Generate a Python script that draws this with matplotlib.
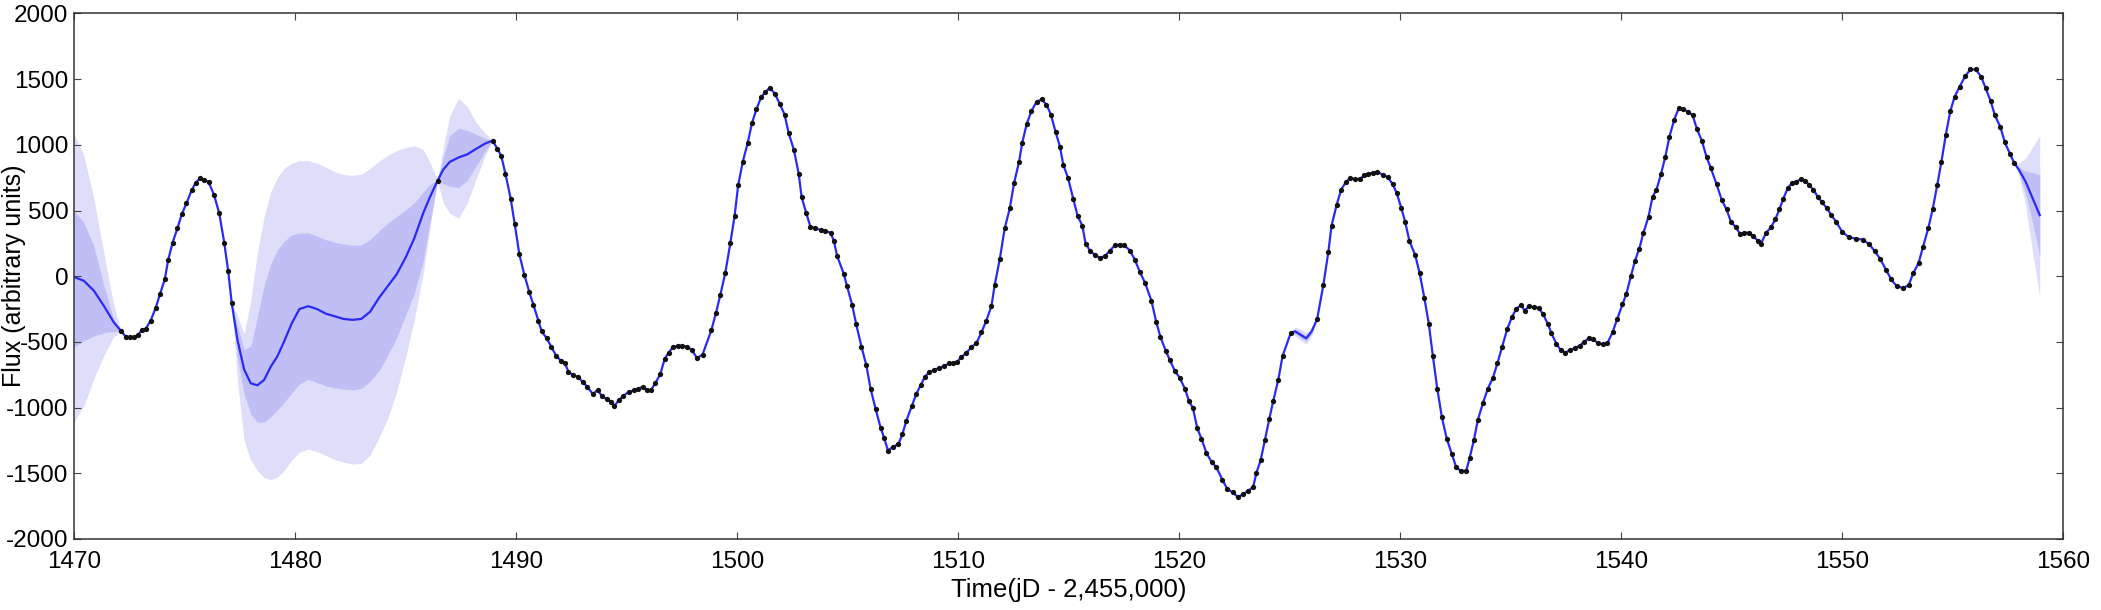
import numpy as np
import matplotlib
matplotlib.use("Agg")
import matplotlib.pyplot as plt

plt.rcParams['font.family'] = ['Liberation Sans', 'DejaVu Sans']
plt.rcParams['axes.unicode_minus'] = False

# observed (binned) light curve points
obs_t = [
    1472.14, 1472.34, 1472.54, 1472.72, 1472.90, 1473.07, 1473.25, 1473.47, 1473.70, 1473.90,
    1474.11, 1474.26, 1474.46, 1474.68, 1474.88, 1475.09, 1475.32, 1475.51, 1475.71, 1475.89,
    1476.09, 1476.34, 1476.57, 1476.80, 1476.98, 1477.14,
    1486.45,
    1488.94, 1489.15, 1489.33, 1489.52, 1489.76, 1489.94, 1490.15, 1490.38, 1490.60, 1490.79,
    1491.01, 1491.16, 1491.39, 1491.59, 1491.81, 1492.04, 1492.22, 1492.37, 1492.60, 1492.82,
    1493.02, 1493.23, 1493.47, 1493.69, 1493.88, 1494.11, 1494.31, 1494.44, 1494.64, 1494.86,
    1495.09, 1495.32, 1495.54, 1495.74, 1495.92, 1496.10, 1496.30, 1496.53, 1496.72, 1496.90,
    1497.10, 1497.31, 1497.51, 1497.73, 1497.96, 1498.19, 1498.44,
    1498.84, 1499.05, 1499.24, 1499.47, 1499.70, 1499.89, 1500.05, 1500.26, 1500.48, 1500.68,
    1500.88, 1501.10, 1501.28, 1501.48, 1501.71, 1501.93, 1502.15, 1502.34, 1502.57, 1502.79,
    1502.92, 1503.13, 1503.32, 1503.55, 1503.78, 1504.00, 1504.23, 1504.38, 1504.53, 1504.83,
    1504.98, 1505.21, 1505.39, 1505.63, 1505.85, 1506.04, 1506.27, 1506.50, 1506.65, 1506.83,
    1507.05, 1507.30, 1507.48, 1507.66, 1507.90, 1508.11, 1508.31, 1508.50, 1508.69, 1508.91,
    1509.14, 1509.37, 1509.59, 1509.78, 1509.96,
    1510.15, 1510.38, 1510.60, 1510.83, 1511.06, 1511.28, 1511.51, 1511.66, 1511.89, 1512.11,
    1512.34, 1512.54, 1512.76, 1512.90, 1513.10, 1513.32, 1513.55, 1513.78, 1514.00, 1514.20,
    1514.41, 1514.61, 1514.76, 1514.98, 1515.21, 1515.41, 1515.62, 1515.77, 1515.97, 1516.19,
    1516.42, 1516.65, 1516.87, 1517.10, 1517.33, 1517.52, 1517.78, 1518.01, 1518.23, 1518.46,
    1518.75, 1518.97, 1519.15, 1519.40, 1519.58, 1519.80, 1520.03, 1520.26, 1520.45, 1520.63,
    1520.82, 1521.01, 1521.24, 1521.47, 1521.69, 1521.96, 1522.18, 1522.42, 1522.67, 1522.90,
    1523.13, 1523.35, 1523.50, 1523.69, 1523.88, 1524.08, 1524.26, 1524.49, 1524.68, 1525.05,
    1526.25, 1526.53, 1526.75, 1526.90, 1527.13, 1527.33, 1527.55, 1527.73, 1527.96, 1528.19,
    1528.37, 1528.56, 1528.79, 1528.97,
    1529.21, 1529.44, 1529.67, 1529.85, 1530.05, 1530.23, 1530.42, 1530.68, 1530.88, 1531.10,
    1531.30, 1531.48, 1531.68, 1531.89, 1532.11, 1532.34, 1532.54, 1532.76, 1532.99, 1533.14,
    1533.34, 1533.52, 1533.75, 1533.97, 1534.20, 1534.40, 1534.62, 1534.85, 1535.06, 1535.26,
    1535.48, 1535.63, 1535.82, 1536.04, 1536.27, 1536.47, 1536.69, 1536.84, 1537.07, 1537.27,
    1537.48, 1537.67, 1537.90, 1538.13, 1538.32, 1538.53, 1538.73, 1538.96, 1539.18, 1539.38,
    1539.61, 1539.83, 1540.06, 1540.24, 1540.44, 1540.63, 1540.82, 1541.01, 1541.24, 1541.42,
    1541.60, 1541.80, 1542.00, 1542.18, 1542.40, 1542.60, 1542.81, 1543.01, 1543.23, 1543.43,
    1543.66, 1543.87, 1544.06, 1544.32, 1544.56, 1544.77, 1544.97, 1545.20, 1545.39, 1545.57,
    1545.77, 1545.98, 1546.18, 1546.33, 1546.56, 1546.78, 1546.98, 1547.16, 1547.34, 1547.54,
    1547.73, 1547.92, 1548.14, 1548.34, 1548.52, 1548.70, 1548.90, 1549.09, 1549.31, 1549.50,
    1549.73,
    1550.00, 1550.30, 1550.62, 1550.94, 1551.23, 1551.48, 1551.73, 1551.98, 1552.22, 1552.47,
    1552.77, 1553.01, 1553.21, 1553.46, 1553.65, 1553.90, 1554.10, 1554.30, 1554.49, 1554.69,
    1554.89, 1555.09, 1555.31, 1555.56, 1555.80, 1556.05, 1556.30, 1556.49, 1556.72, 1556.91,
    1557.16, 1557.36, 1557.60, 1557.78,
]
obs_f = [
    -419, -459, -465, -465, -446, -410, -400, -337, -241, -132,
    -23, 121, 255, 364, 473, 555, 653, 713, 746, 732,
    718, 618, 481, 255, 37, -206,
    727,
    1032, 972, 918, 781, 590, 399, 168, 9, -119, -219,
    -337, -419, -473, -536, -604, -645, -664, -727, -754, -765,
    -808, -841, -896, -868, -909, -937, -956, -991, -945, -909,
    -882, -868, -855, -841, -868, -868, -814, -746, -631, -582,
    -541, -528, -528, -536, -563, -623, -596,
    -410, -277, -146, 26, 255, 459, 691, 871, 1013, 1168,
    1272, 1367, 1400, 1436, 1389, 1313, 1231, 1087, 964, 781,
    604, 481, 378, 364, 353, 345, 331, 269, 154, 18,
    -78, -219, -364, -536, -678, -855, -1010, -1155, -1228, -1327,
    -1299, -1278, -1204, -1100, -991, -896, -828, -765, -732, -713,
    -700, -683, -664, -664, -652,
    -615, -582, -541, -509, -427, -337, -228, -64, 132, 364,
    517, 713, 871, 1013, 1155, 1258, 1327, 1346, 1307, 1231,
    1100, 986, 849, 746, 590, 459, 386, 249, 195, 162,
    140, 154, 195, 236, 241, 236, 195, 121, 31, -50,
    -187, -350, -459, -569, -637, -718, -773, -855, -950, -1005,
    -1155, -1236, -1346, -1414, -1455, -1550, -1618, -1646, -1681, -1659,
    -1632, -1605, -1496, -1400, -1250, -1087, -950, -787, -609, -432,
    -323, -64, 181, 386, 544, 658, 718, 746, 740, 740,
    768, 781, 789, 795,
    773, 754, 699, 631, 522, 413, 269, 162, 26, -168,
    -364, -604, -855, -1073, -1236, -1354, -1455, -1482, -1482, -1387,
    -1245, -1092, -964, -855, -773, -664, -536, -400, -310, -247,
    -219, -263, -228, -236, -241, -290, -364, -432, -514, -563,
    -582, -563, -547, -528, -500, -473, -481, -509, -519, -509,
    -427, -323, -214, -132, 0, 119, 209, 331, 454, 604,
    658, 776, 909, 1059, 1190, 1277, 1272, 1253, 1226, 1122,
    1027, 904, 822, 699, 577, 508, 413, 372, 318, 331,
    331, 304, 271, 249, 331, 372, 435, 508, 590, 672,
    708, 718, 740, 727, 691, 658, 604, 563, 517, 468,
    413,
    340, 296, 287, 278, 243, 189, 130, 50, -24, -77,
    -89, -68, 21, 101, 219, 367, 515, 692, 870, 1077,
    1255, 1367, 1441, 1521, 1574, 1574, 1515, 1432, 1332, 1225,
    1136, 1018, 929, 864,
]

# GP prediction before the first point
start_t = [1470.0, 1470.45, 1470.9, 1471.35, 1471.8, 1472.14]
start_mean = [-5, -35, -110, -225, -350, -419]
start_hi1 = [495, 410, 230, -70, -330, -419]
start_lo1 = [-540, -490, -455, -430, -420, -419]
start_hi2 = [1085, 920, 590, 180, -220, -419]
start_lo2 = [-1110, -985, -780, -605, -460, -419]

# GP prediction across the long gap
gap_t = [1477.14, 1477.4, 1477.7, 1478.0, 1478.3, 1478.6, 1478.9, 1479.2, 1479.5, 1479.85,
         1480.2, 1480.6, 1481.0, 1481.4, 1481.8, 1482.2, 1482.6, 1483.0, 1483.4, 1483.8,
         1484.2, 1484.6, 1485.0, 1485.4, 1485.8, 1486.1, 1486.45, 1486.7, 1487.0, 1487.4,
         1487.8, 1488.2, 1488.6, 1488.94]
gap_mean = [-206, -487, -710, -815, -830, -790, -690, -610, -500, -360,
            -250, -228, -250, -285, -305, -325, -332, -325, -270, -165,
            -75, 15, 140, 290, 480, 600, 727, 810, 870, 904,
            928, 970, 1010, 1032]
gap_hi1 = [-206, -380, -560, -530, -310, -70, 90, 200, 265, 315,
           328, 330, 305, 278, 258, 245, 235, 238, 280, 345,
           405, 455, 505, 560, 640, 700, 727, 900, 1070, 1127,
           1110, 1080, 1050, 1032]
gap_lo1 = [-206, -620, -900, -1050, -1110, -1110, -1070, -1020, -960, -890,
           -820, -785, -810, -835, -850, -860, -865, -855, -800, -720,
           -600, -470, -300, -130, 120, 400, 727, 705, 685, 675,
           730, 840, 950, 1032]
gap_hi2 = [-206, -300, -440, -180, 180, 450, 640, 750, 820, 860,
           880, 880, 860, 830, 795, 775, 768, 775, 820, 875,
           920, 955, 980, 993, 965, 870, 727, 970, 1220, 1355,
           1290, 1170, 1090, 1032]
gap_lo2 = [-206, -800, -1250, -1400, -1480, -1530, -1550, -1530, -1480, -1400,
           -1340, -1315, -1335, -1365, -1395, -1415, -1430, -1425, -1360, -1230,
           -1080, -880, -620, -330, 20, 360, 727, 560, 480, 440,
           560, 740, 920, 1032]

# short gap near 1525.5
bump_t = [1525.05, 1525.25, 1525.5, 1525.75, 1526.0, 1526.25]
bump_mean = [-432, -419, -446, -473, -419, -323]
bump_hi1 = [-432, -402, -424, -450, -402, -323]
bump_lo1 = [-432, -436, -468, -496, -436, -323]
bump_hi2 = [-432, -385, -402, -427, -385, -323]
bump_lo2 = [-432, -453, -490, -519, -453, -323]

# prediction after the last point
end_t = [1557.78, 1558.0, 1558.3, 1558.6, 1558.94]
end_mean = [864, 810, 720, 600, 465]
end_hi1 = [864, 830, 800, 790, 775]
end_lo1 = [864, 785, 630, 420, 154]
end_hi2 = [864, 860, 900, 980, 1071]
end_lo2 = [864, 760, 540, 200, -157]

fig = plt.figure(figsize=(21.01, 6.10), dpi=100)
ax = fig.add_axes([0.0352, 0.1164, 0.9468, 0.8615])

bands = [
    (start_t, start_lo1, start_hi1, start_lo2, start_hi2),
    (gap_t, gap_lo1, gap_hi1, gap_lo2, gap_hi2),
    (bump_t, bump_lo1, bump_hi1, bump_lo2, bump_hi2),
    (end_t, end_lo1, end_hi1, end_lo2, end_hi2),
]
for t, lo1, hi1, lo2, hi2 in bands:
    ax.fill_between(t, lo2, hi2, color='#dedefb', lw=0, zorder=1)
    ax.fill_between(t, lo1, hi1, color='#bfbff6', lw=0, zorder=1)

# mean curve: prediction in the gaps, through the points elsewhere
line_t = np.concatenate([start_t, obs_t, gap_t, bump_t, end_t])
line_f = np.concatenate([start_mean, obs_f, gap_mean, bump_mean, end_mean])
order = np.argsort(line_t, kind='stable')
ax.plot(line_t[order], line_f[order], color='#2a2af5', lw=1.6, zorder=2)

ax.plot(obs_t, obs_f, 'o', color='#111111', ms=3.8, mew=0, zorder=3)

ax.set_xlim(1470, 1560)
ax.set_ylim(-2000, 2000)
ax.set_xticks(np.arange(1470, 1561, 10))
ax.set_yticks(np.arange(-2000, 2001, 500))
ax.tick_params(direction='in', top=True, right=True, length=5, width=0.8,
               labelsize=17.5, color='#444444')
ax.tick_params(axis='x', pad=9)
ax.tick_params(axis='y', pad=4)
for s in ax.spines.values():
    s.set_linewidth(1.1)
    s.set_color('#333333')

ax.set_xlabel('Time(jD - 2,455,000)', fontsize=18.5)
ax.set_ylabel('Flux (arbitrary units)', fontsize=18)
ax.xaxis.set_label_coords(0.5, -0.075)
ax.yaxis.set_label_coords(-0.0243, 0.5)

fig.savefig('out.png', dpi=100)
